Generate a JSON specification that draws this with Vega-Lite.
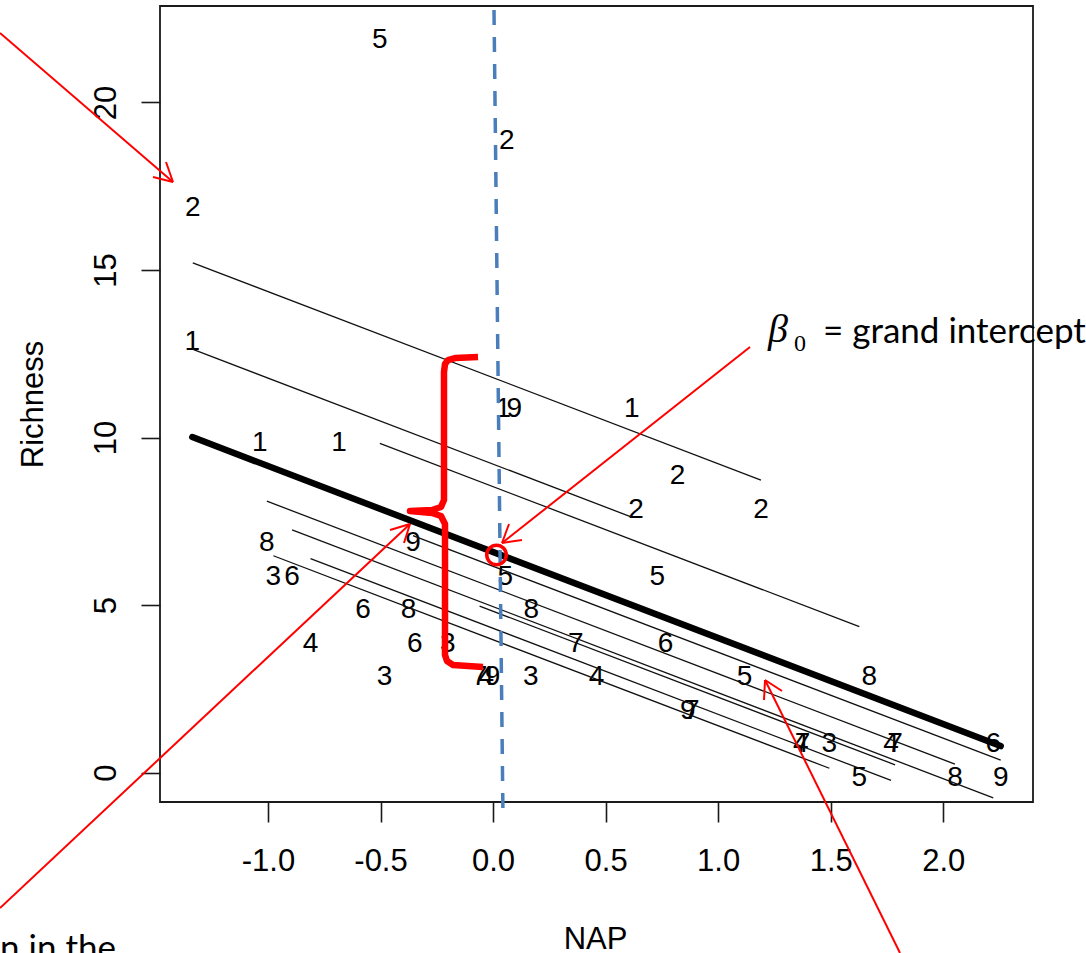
{
  "$schema": "https://vega.github.io/schema/vega-lite/v6.json",
  "width": 873,
  "height": 796,
  "autosize": {"type": "none"},
  "padding": {"left": 160, "top": 6, "right": 53, "bottom": 151},
  "background": "white",
  "datasets": {
    "rikz": [
      {"NAP": 0.045, "Richness": 11, "Beach": 1},
      {"NAP": -1.036, "Richness": 10, "Beach": 1},
      {"NAP": -1.336, "Richness": 13, "Beach": 1},
      {"NAP": 0.616, "Richness": 11, "Beach": 1},
      {"NAP": -0.684, "Richness": 10, "Beach": 1},
      {"NAP": 1.190, "Richness": 8, "Beach": 2},
      {"NAP": 0.820, "Richness": 9, "Beach": 2},
      {"NAP": 0.635, "Richness": 8, "Beach": 2},
      {"NAP": 0.061, "Richness": 19, "Beach": 2},
      {"NAP": -1.334, "Richness": 17, "Beach": 2},
      {"NAP": -0.976, "Richness": 6, "Beach": 3},
      {"NAP": 1.494, "Richness": 1, "Beach": 3},
      {"NAP": -0.201, "Richness": 4, "Beach": 3},
      {"NAP": -0.482, "Richness": 3, "Beach": 3},
      {"NAP": 0.167, "Richness": 3, "Beach": 3},
      {"NAP": 1.768, "Richness": 1, "Beach": 4},
      {"NAP": -0.030, "Richness": 3, "Beach": 4},
      {"NAP": 0.460, "Richness": 3, "Beach": 4},
      {"NAP": 1.367, "Richness": 1, "Beach": 4},
      {"NAP": -0.811, "Richness": 4, "Beach": 4},
      {"NAP": 1.117, "Richness": 3, "Beach": 5},
      {"NAP": -0.503, "Richness": 22, "Beach": 5},
      {"NAP": 0.729, "Richness": 6, "Beach": 5},
      {"NAP": 1.627, "Richness": 0, "Beach": 5},
      {"NAP": 0.054, "Richness": 6, "Beach": 5},
      {"NAP": -0.578, "Richness": 5, "Beach": 6},
      {"NAP": -0.348, "Richness": 4, "Beach": 6},
      {"NAP": 2.222, "Richness": 1, "Beach": 6},
      {"NAP": -0.893, "Richness": 6, "Beach": 6},
      {"NAP": 0.766, "Richness": 4, "Beach": 6},
      {"NAP": 0.883, "Richness": 2, "Beach": 7},
      {"NAP": 1.786, "Richness": 1, "Beach": 7},
      {"NAP": 1.375, "Richness": 1, "Beach": 7},
      {"NAP": -0.060, "Richness": 3, "Beach": 7},
      {"NAP": 0.367, "Richness": 4, "Beach": 7},
      {"NAP": 1.671, "Richness": 3, "Beach": 8},
      {"NAP": -0.375, "Richness": 5, "Beach": 8},
      {"NAP": -1.005, "Richness": 7, "Beach": 8},
      {"NAP": 0.170, "Richness": 5, "Beach": 8},
      {"NAP": 2.052, "Richness": 0, "Beach": 8},
      {"NAP": -0.356, "Richness": 7, "Beach": 9},
      {"NAP": 0.094, "Richness": 11, "Beach": 9},
      {"NAP": -0.002, "Richness": 3, "Beach": 9},
      {"NAP": 2.255, "Richness": 0, "Beach": 9},
      {"NAP": 0.865, "Richness": 2, "Beach": 9}
    ],
    "fits": [
      {"Beach": 1, "NAP": -1.336, "Richness": 12.637},
      {"Beach": 1, "NAP": 0.616, "Richness": 7.624},
      {"Beach": 2, "NAP": -1.334, "Richness": 15.212},
      {"Beach": 2, "NAP": 1.190, "Richness": 8.730},
      {"Beach": 3, "NAP": -0.976, "Richness": 6.470},
      {"Beach": 3, "NAP": 1.494, "Richness": 0.127},
      {"Beach": 4, "NAP": -0.811, "Richness": 6.387},
      {"Beach": 4, "NAP": 1.768, "Richness": -0.236},
      {"Beach": 5, "NAP": -0.503, "Richness": 9.825},
      {"Beach": 5, "NAP": 1.627, "Richness": 4.355},
      {"Beach": 6, "NAP": -0.893, "Richness": 7.244},
      {"Beach": 6, "NAP": 2.222, "Richness": -0.755},
      {"Beach": 7, "NAP": -0.060, "Richness": 4.969},
      {"Beach": 7, "NAP": 1.786, "Richness": 0.229},
      {"Beach": 8, "NAP": -1.005, "Richness": 8.100},
      {"Beach": 8, "NAP": 2.052, "Richness": 0.249},
      {"Beach": 9, "NAP": -0.356, "Richness": 7.072},
      {"Beach": 9, "NAP": 2.255, "Richness": 0.367}
    ],
    "fixed": [
      {"NAP": -1.336, "Richness": 10.013},
      {"NAP": 2.255, "Richness": 0.791}
    ],
    "guide": [
      {"NAP": 0.0042, "Richness": 22.76, "NAP2": 0.044, "Richness2": -1.27}
    ],
    "brace": [
      {"i": 0, "NAP": -0.0669, "Richness": 12.403},
      {"i": 1, "NAP": -0.1691, "Richness": 12.373},
      {"i": 2, "NAP": -0.2002, "Richness": 12.313},
      {"i": 3, "NAP": -0.2135, "Richness": 12.194},
      {"i": 4, "NAP": -0.2180, "Richness": 11.955},
      {"i": 5, "NAP": -0.2180, "Richness": 8.135},
      {"i": 6, "NAP": -0.2313, "Richness": 7.926},
      {"i": 7, "NAP": -0.2713, "Richness": 7.836},
      {"i": 8, "NAP": -0.3690, "Richness": 7.806},
      {"i": 9, "NAP": -0.2713, "Richness": 7.747},
      {"i": 10, "NAP": -0.2313, "Richness": 7.657},
      {"i": 11, "NAP": -0.2135, "Richness": 7.419},
      {"i": 12, "NAP": -0.2135, "Richness": 3.508},
      {"i": 13, "NAP": -0.2046, "Richness": 3.329},
      {"i": 14, "NAP": -0.1780, "Richness": 3.210},
      {"i": 15, "NAP": -0.0447, "Richness": 3.150}
    ],
    "circle": [
      {"NAP": 0.0153, "Richness": 6.493}
    ],
    "arrows": [
      {"NAP": -2.1904, "Richness": 22.074, "NAP2": -1.4219, "Richness2": 17.627},
      {"NAP": -1.4219, "Richness": 17.627, "NAP2": -1.5107, "Richness2": 17.776},
      {"NAP": -1.4219, "Richness": 17.627, "NAP2": -1.4529, "Richness2": 18.224},
      {"NAP": -2.1904, "Richness": -4.044, "NAP2": -0.3690, "Richness2": 7.418},
      {"NAP": -0.3690, "Richness": 7.418, "NAP2": -0.4578, "Richness2": 7.239},
      {"NAP": -0.3690, "Richness": 7.418, "NAP2": -0.3957, "Richness2": 6.851},
      {"NAP": 1.1414, "Richness": 12.701, "NAP2": 0.0397, "Richness2": 6.851},
      {"NAP": 0.0397, "Richness": 6.851, "NAP2": 0.1285, "Richness2": 6.941},
      {"NAP": 0.0397, "Richness": 6.851, "NAP2": 0.0708, "Richness2": 7.418},
      {"NAP": 1.8078, "Richness": -5.387, "NAP2": 1.2081, "Richness2": 2.762},
      {"NAP": 1.2081, "Richness": 2.762, "NAP2": 1.2036, "Richness2": 2.165},
      {"NAP": 1.2081, "Richness": 2.762, "NAP2": 1.2836, "Richness2": 2.433}
    ],
    "beta": [{"NAP": 1.2214, "Richness": 12.851, "label": "β"}],
    "sub": [{"NAP": 1.3369, "Richness": 12.582, "label": "0"}],
    "note": [
      {"NAP": 1.4657, "Richness": 12.821, "label": "= grand intercept"},
      {"NAP": -2.1904, "Richness": -5.596, "label": "n in the"}
    ]
  },
  "layer": [
    {
      "data": {"name": "rikz"},
      "mark": {"type": "text", "font": "Liberation Sans", "fontSize": 28, "align": "center", "baseline": "alphabetic", "dy": 13, "color": "#000000"},
      "encoding": {
        "x": {"field": "NAP", "type": "quantitative",
          "scale": {"domain": [-1.4796, 2.3986], "nice": false, "zero": false},
          "axis": {"title": "NAP", "values": [-1, -0.5, 0, 0.5, 1, 1.5, 2], "format": ".1f",
            "labelExpr": "replace(datum.label, '\u2212', '-')",
            "tickSize": 20, "labelPadding": 24, "labelBaseline": "top", "labelFlush": false, "labelOverlap": false,
            "titleBaseline": "alphabetic", "titleAlign": "center", "titleX": 435, "titleY": 146}},
        "y": {"field": "Richness", "type": "quantitative",
          "scale": {"domain": [-0.88, 22.88], "nice": false, "zero": false},
          "axis": {"title": "Richness", "values": [0, 5, 10, 15, 20],
            "tickSize": 19, "labelAngle": -90, "labelAlign": "center", "labelBaseline": "alphabetic", "labelPadding": 26,
            "labelFlush": false, "labelOverlap": false,
            "titleAngle": -90, "titleBaseline": "alphabetic", "titleAlign": "center", "titleX": -118, "titleY": 398}},
        "text": {"field": "Beach", "type": "nominal"}
      }
    },
    {
      "data": {"name": "fits"},
      "mark": {"type": "line", "color": "#111111", "strokeWidth": 1.3},
      "encoding": {
        "x": {"field": "NAP", "type": "quantitative"},
        "y": {"field": "Richness", "type": "quantitative"},
        "detail": {"field": "Beach", "type": "nominal"}
      }
    },
    {
      "data": {"name": "fixed"},
      "mark": {"type": "line", "color": "#000000", "strokeWidth": 6.5, "strokeCap": "round"},
      "encoding": {
        "x": {"field": "NAP", "type": "quantitative"},
        "y": {"field": "Richness", "type": "quantitative"}
      }
    },
    {
      "data": {"name": "guide"},
      "mark": {"type": "rule", "color": "#4a7ebb", "strokeWidth": 3.5, "strokeDash": [15, 12], "clip": false},
      "encoding": {
        "x": {"field": "NAP", "type": "quantitative"},
        "y": {"field": "Richness", "type": "quantitative"},
        "x2": {"field": "NAP2"},
        "y2": {"field": "Richness2"}
      }
    },
    {
      "data": {"name": "brace"},
      "mark": {"type": "line", "color": "#ff0000", "strokeWidth": 6.5, "strokeJoin": "round", "strokeCap": "butt", "clip": false},
      "encoding": {
        "x": {"field": "NAP", "type": "quantitative"},
        "y": {"field": "Richness", "type": "quantitative"},
        "order": {"field": "i", "type": "quantitative"}
      }
    },
    {
      "data": {"name": "circle"},
      "mark": {"type": "point", "shape": "circle", "filled": false, "size": 380, "stroke": "#ff0000", "strokeWidth": 3.5, "opacity": 1, "clip": false},
      "encoding": {
        "x": {"field": "NAP", "type": "quantitative"},
        "y": {"field": "Richness", "type": "quantitative"}
      }
    },
    {
      "data": {"name": "arrows"},
      "mark": {"type": "rule", "color": "#ff0000", "strokeWidth": 2, "clip": false},
      "encoding": {
        "x": {"field": "NAP", "type": "quantitative"},
        "y": {"field": "Richness", "type": "quantitative"},
        "x2": {"field": "NAP2"},
        "y2": {"field": "Richness2"}
      }
    },
    {
      "data": {"name": "beta"},
      "mark": {"type": "text", "font": "Liberation Serif", "fontStyle": "italic", "fontSize": 40, "align": "left", "baseline": "alphabetic", "color": "#000000", "clip": false},
      "encoding": {
        "x": {"field": "NAP", "type": "quantitative"},
        "y": {"field": "Richness", "type": "quantitative"},
        "text": {"field": "label", "type": "nominal"}
      }
    },
    {
      "data": {"name": "sub"},
      "mark": {"type": "text", "font": "Liberation Serif", "fontSize": 24, "align": "left", "baseline": "alphabetic", "color": "#000000", "clip": false},
      "encoding": {
        "x": {"field": "NAP", "type": "quantitative"},
        "y": {"field": "Richness", "type": "quantitative"},
        "text": {"field": "label", "type": "nominal"}
      }
    },
    {
      "data": {"name": "note"},
      "mark": {"type": "text", "font": "Lato", "fontSize": 35, "align": "left", "baseline": "alphabetic", "color": "#000000", "clip": false},
      "encoding": {
        "x": {"field": "NAP", "type": "quantitative"},
        "y": {"field": "Richness", "type": "quantitative"},
        "text": {"field": "label", "type": "nominal"}
      }
    }
  ],
  "config": {
    "view": {"stroke": "#1a1a1a", "strokeWidth": 1.8},
    "axis": {
      "grid": false,
      "domain": false,
      "ticks": true,
      "zindex": 1,
      "tickColor": "#1a1a1a",
      "tickWidth": 1.6,
      "labelFont": "Liberation Sans",
      "labelFontSize": 31,
      "labelColor": "#000000",
      "titleFont": "Liberation Sans",
      "titleFontSize": 31,
      "titleFontWeight": "normal",
      "titleColor": "#000000"
    }
  }
}
